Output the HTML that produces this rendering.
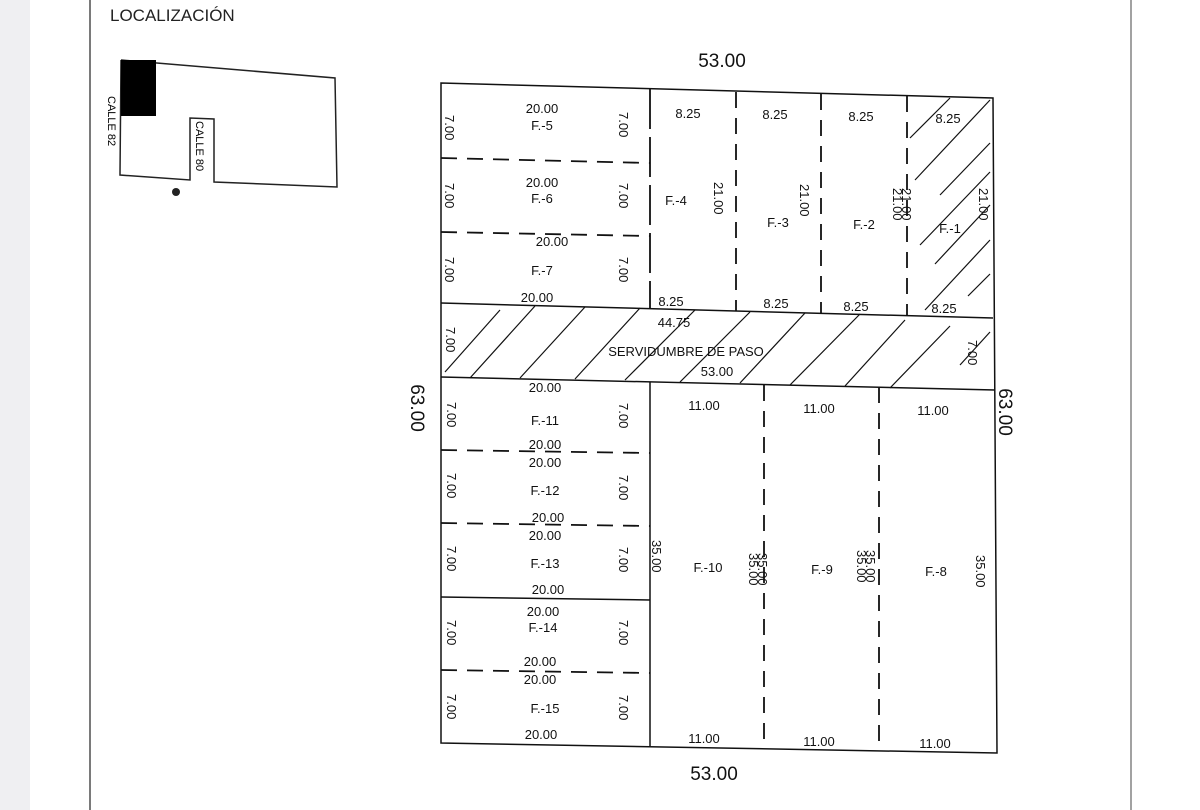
<!DOCTYPE html>
<html><head><meta charset="utf-8"><style>
html,body{margin:0;padding:0;background:#fff;}
svg{display:block;font-family:"Liberation Sans",Arial,sans-serif;}
</style></head><body>
<svg width="1200" height="810" viewBox="0 0 1200 810" xmlns="http://www.w3.org/2000/svg">
<rect x="0" y="0" width="1200" height="810" fill="#fff"/>
<rect x="0" y="0" width="30" height="810" fill="#efeff2"/>
<line x1="90" y1="0" x2="90" y2="810" stroke="#222" stroke-width="1.2"/>
<line x1="1131" y1="0" x2="1131" y2="810" stroke="#444" stroke-width="1"/>
<text x="110" y="21" font-size="17" fill="#222">LOCALIZACIÓN</text>
<polyline points="121,60 335,78 337,187 214,182 214,119 190,118 190,180 120,175 121,60" fill="none" stroke="#222" stroke-width="1.5"/>
<rect x="121" y="60" width="35" height="56" fill="#000"/>
<text transform="translate(108,96) rotate(90)" font-size="11">CALLE 82</text>
<text transform="translate(196,121) rotate(90)" font-size="11">CALLE 80</text>
<circle cx="176" cy="192" r="4" fill="#222"/>

<g stroke="#111" fill="none" stroke-width="1.5">
<polygon points="441,83 993,98 997,753 441,743"/>
<line x1="441" y1="303" x2="993" y2="318"/>
<line x1="441" y1="377" x2="995" y2="390"/>
<line x1="650" y1="382" x2="650" y2="746"/>
<line x1="441" y1="597" x2="650" y2="600"/>
</g>
<g stroke="#111" fill="none" stroke-width="1.8" stroke-dasharray="16,10">
<line x1="650" y1="89" x2="650" y2="309" stroke-dasharray="40,8"/>
<line x1="736" y1="92" x2="736" y2="311"/>
<line x1="821" y1="94" x2="821" y2="314"/>
<line x1="907" y1="96" x2="907" y2="316"/>
<line x1="441" y1="158" x2="650" y2="163"/>
<line x1="441" y1="232" x2="650" y2="236"/>
<line x1="441" y1="450" x2="650" y2="453"/>
<line x1="441" y1="523" x2="650" y2="526"/>
<line x1="441" y1="670" x2="650" y2="673"/>
<line x1="764" y1="385" x2="764" y2="748"/>
<line x1="879" y1="387" x2="879" y2="750"/>
</g>
<g stroke="#111" stroke-width="1.2">
<line x1="445" y1="372" x2="500" y2="310"/>
<line x1="470" y1="378" x2="535" y2="306"/>
<line x1="520" y1="378" x2="585" y2="307"/>
<line x1="575" y1="379" x2="640" y2="308"/>
<line x1="625" y1="380" x2="695" y2="310"/>
<line x1="680" y1="382" x2="750" y2="312"/>
<line x1="740" y1="383" x2="805" y2="313"/>
<line x1="790" y1="385" x2="860" y2="314"/>
<line x1="845" y1="386" x2="905" y2="320"/>
<line x1="890" y1="388" x2="950" y2="326"/>
<line x1="960" y1="365" x2="990" y2="332"/>
<line x1="910" y1="138" x2="950" y2="98"/>
<line x1="915" y1="180" x2="990" y2="100"/>
<line x1="940" y1="195" x2="990" y2="143"/>
<line x1="920" y1="245" x2="990" y2="172"/>
<line x1="935" y1="264" x2="990" y2="205"/>
<line x1="925" y1="310" x2="990" y2="240"/>
<line x1="968" y1="296" x2="990" y2="274"/>
</g>
<g font-size="13" fill="#111" text-anchor="middle">
<text x="722" y="67" font-size="19">53.00</text>
<text x="714" y="780" font-size="19">53.00</text>
<text transform="translate(411,408) rotate(90)" font-size="19">63.00</text>
<text transform="translate(999,412) rotate(90)" font-size="19">63.00</text>
<text x="542" y="113">20.00</text><text x="542" y="130">F.-5</text>
<text x="542" y="187">20.00</text><text x="542" y="203">F.-6</text>
<text x="552" y="246">20.00</text><text x="542" y="275">F.-7</text>
<text x="537" y="302">20.00</text>
<text x="688" y="118">8.25</text><text x="775" y="119">8.25</text><text x="861" y="121">8.25</text><text x="948" y="123">8.25</text>
<text x="676" y="205">F.-4</text><text x="778" y="227">F.-3</text><text x="864" y="229">F.-2</text><text x="950" y="233">F.-1</text>
<text x="671" y="306">8.25</text><text x="776" y="308">8.25</text><text x="856" y="311">8.25</text><text x="944" y="313">8.25</text>
<text x="674" y="327">44.75</text>
<text x="686" y="356">SERVIDUMBRE DE PASO</text>
<text x="717" y="376">53.00</text>
<text x="545" y="392">20.00</text>
<text x="545" y="425">F.-11</text><text x="545" y="449">20.00</text><text x="545" y="467">20.00</text>
<text x="545" y="495">F.-12</text><text x="548" y="522">20.00</text><text x="545" y="540">20.00</text>
<text x="545" y="568">F.-13</text><text x="548" y="594">20.00</text>
<text x="543" y="616">20.00</text><text x="543" y="632">F.-14</text>
<text x="540" y="666">20.00</text><text x="540" y="684">20.00</text>
<text x="545" y="713">F.-15</text><text x="541" y="739">20.00</text>
<text x="704" y="410">11.00</text><text x="819" y="413">11.00</text><text x="933" y="415">11.00</text>
<text x="708" y="572">F.-10</text><text x="822" y="574">F.-9</text><text x="936" y="576">F.-8</text>
<text x="704" y="743">11.00</text><text x="819" y="746">11.00</text><text x="935" y="748">11.00</text>
</g>
<g font-size="13" fill="#111">
<text transform="translate(445,115) rotate(90)">7.00</text>
<text transform="translate(445,183) rotate(90)">7.00</text>
<text transform="translate(445,257) rotate(90)">7.00</text>
<text transform="translate(446,327) rotate(90)">7.00</text>
<text transform="translate(447,402) rotate(90)">7.00</text>
<text transform="translate(447,473) rotate(90)">7.00</text>
<text transform="translate(447,546) rotate(90)">7.00</text>
<text transform="translate(447,620) rotate(90)">7.00</text>
<text transform="translate(447,694) rotate(90)">7.00</text>
<text transform="translate(619,112) rotate(90)">7.00</text>
<text transform="translate(619,183) rotate(90)">7.00</text>
<text transform="translate(619,257) rotate(90)">7.00</text>
<text transform="translate(619,403) rotate(90)">7.00</text>
<text transform="translate(619,475) rotate(90)">7.00</text>
<text transform="translate(619,547) rotate(90)">7.00</text>
<text transform="translate(619,620) rotate(90)">7.00</text>
<text transform="translate(619,695) rotate(90)">7.00</text>
<text transform="translate(968,340) rotate(90)">7.00</text>
<text transform="translate(714,182) rotate(90)">21.00</text>
<text transform="translate(800,184) rotate(90)">21.00</text>
<text transform="translate(893,188) rotate(90)">21.00</text>
<text transform="translate(902,188) rotate(90)">21.00</text>
<text transform="translate(979,188) rotate(90)">21.00</text>
<text transform="translate(652,540) rotate(90)">35.00</text>
<text transform="translate(749,553) rotate(90)">35.00</text>
<text transform="translate(758,553) rotate(90)">35.00</text>
<text transform="translate(857,550) rotate(90)">35.00</text>
<text transform="translate(866,550) rotate(90)">35.00</text>
<text transform="translate(976,555) rotate(90)">35.00</text>
</g>
</svg>
</body></html>
